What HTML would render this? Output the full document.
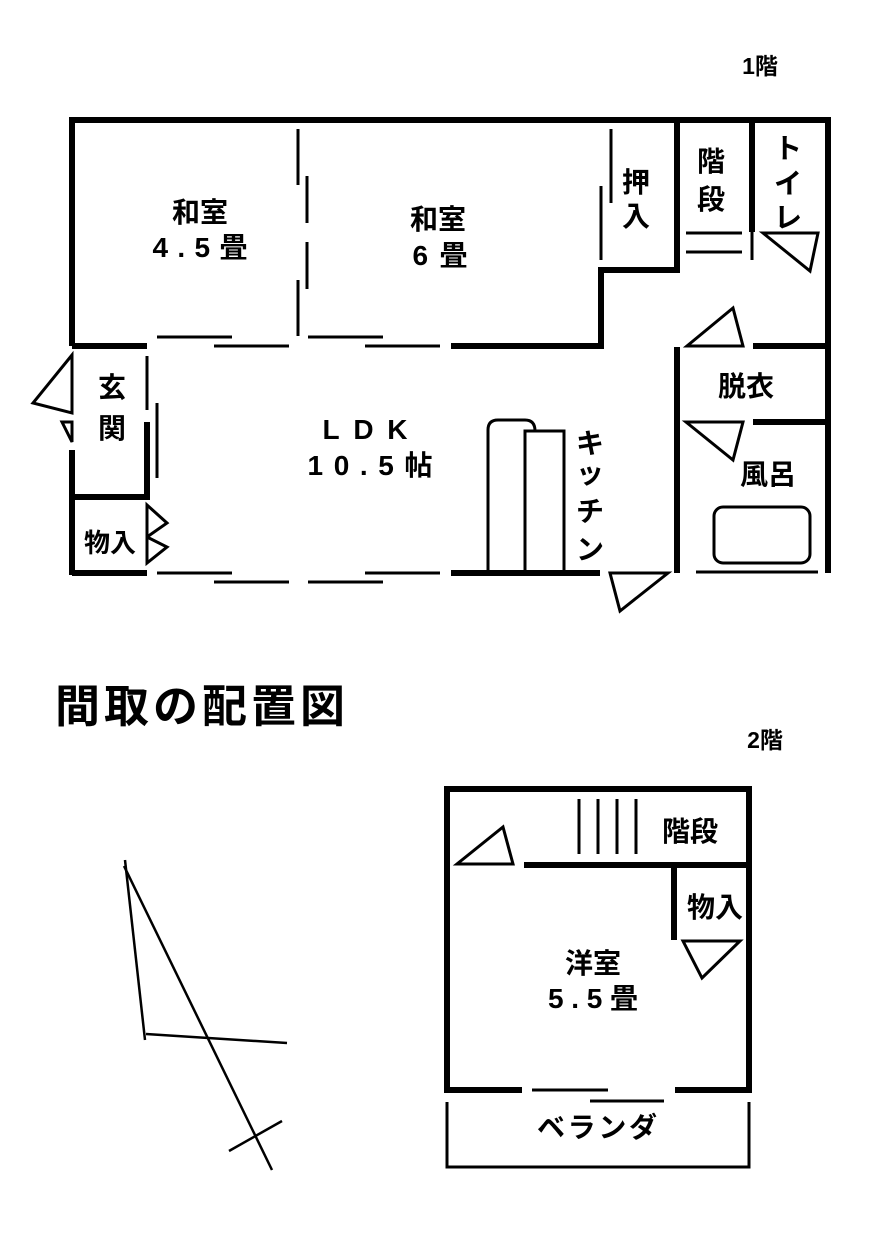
<!DOCTYPE html>
<html><head><meta charset="utf-8"><style>
html,body{margin:0;padding:0;background:#fff}
svg{display:block}
text{font-family:"Liberation Sans","Noto Sans CJK JP",sans-serif;font-weight:bold;fill:#000}
</style></head><body>
<svg width="876" height="1244" viewBox="0 0 876 1244" xmlns="http://www.w3.org/2000/svg">
<g stroke="#000" fill="none" stroke-linecap="butt">
<g stroke-width="6">
<polyline points="72,346 72,120 828,120 828,573"/>
<line x1="72" y1="346" x2="147" y2="346"/>
<line x1="451" y1="346" x2="604" y2="346"/>
<polyline points="601,346 601,270 677,270 677,120"/>
<line x1="752" y1="120" x2="752" y2="232"/>
<line x1="753" y1="346" x2="828" y2="346"/>
<line x1="753" y1="422" x2="828" y2="422"/>
<line x1="677" y1="347" x2="677" y2="573"/>
<line x1="72" y1="450" x2="72" y2="575"/>
<line x1="72" y1="497" x2="150" y2="497"/>
<line x1="147" y1="422" x2="147" y2="497"/>
<line x1="72" y1="573" x2="147" y2="573"/>
<line x1="451" y1="573" x2="600" y2="573"/>
</g>
<g stroke-width="3">
<line x1="157" y1="337" x2="232" y2="337"/>
<line x1="214" y1="346" x2="289" y2="346"/>
<line x1="308" y1="337" x2="383" y2="337"/>
<line x1="365" y1="346" x2="440" y2="346"/>
<line x1="157" y1="573" x2="232" y2="573"/>
<line x1="214" y1="582" x2="289" y2="582"/>
<line x1="308" y1="582" x2="383" y2="582"/>
<line x1="365" y1="573" x2="440" y2="573"/>
<line x1="298" y1="129" x2="298" y2="185"/>
<line x1="307" y1="176" x2="307" y2="223"/>
<line x1="307" y1="242" x2="307" y2="289"/>
<line x1="298" y1="280" x2="298" y2="336"/>
<line x1="611" y1="129" x2="611" y2="203"/>
<line x1="601" y1="186" x2="601" y2="260"/>
<line x1="752" y1="232" x2="752" y2="260"/>
<line x1="686" y1="233" x2="742" y2="233"/>
<line x1="686" y1="252" x2="742" y2="252"/>
<line x1="696" y1="572" x2="818" y2="572"/>
<line x1="147" y1="356" x2="147" y2="410"/>
<line x1="157" y1="403" x2="157" y2="478"/>
<polygon points="763,233 818,233 810,271"/>
<polygon points="687,346 743,346 733,308"/>
<polygon points="686,422 743,422 733,460"/>
<polygon points="610,573 668,573 620,611"/>
<polygon points="72,355 33,403 72,413"/>
<polygon points="62,422 72,422 72,442"/>
<polygon points="147,505 167,523 147,537"/>
<polygon points="147,537 167,547 147,563"/>
<rect x="714" y="507" width="96" height="56" rx="9"/>
<path d="M488,573 V430 Q488,420 498,420 H525 Q535,420 535,431"/>
<rect x="525" y="431" width="39" height="142"/>
</g>
<g stroke-width="6">
<polyline points="522,1090 447,1090 447,789 749,789 749,1090 675,1090"/>
<line x1="524" y1="865" x2="749" y2="865"/>
<line x1="674" y1="865" x2="674" y2="940"/>
</g>
<g stroke-width="3">
<line x1="532" y1="1090" x2="608" y2="1090"/>
<line x1="590" y1="1101" x2="664" y2="1101"/>
<polyline points="447,1102 447,1167 749,1167 749,1102"/>
<line x1="579" y1="799" x2="579" y2="854"/>
<line x1="598" y1="799" x2="598" y2="854"/>
<line x1="617" y1="799" x2="617" y2="854"/>
<line x1="636" y1="799" x2="636" y2="854"/>
<polygon points="457,864 513,864 503,827"/>
<polygon points="683,941 740,941 702,978"/>
</g>
<g stroke-width="2.5">
<line x1="125" y1="860" x2="145" y2="1040"/>
<line x1="124" y1="866" x2="272" y2="1170"/>
<line x1="146" y1="1034" x2="287" y2="1043"/>
<line x1="229" y1="1151" x2="282" y2="1121"/>
</g>
</g>
<g font-size="28" text-anchor="middle">
<text x="760" y="74" font-size="23">1階</text>
<text x="765" y="748" font-size="23">2階</text>
<text x="200" y="222">和室</text>
<text x="200" y="257" textLength="95">4.5畳</text>
<text x="438" y="229">和室</text>
<text x="440" y="265" textLength="55">6畳</text>
<text x="365" y="439" textLength="85">LDK</text>
<text x="370" y="475" textLength="125">10.5帖</text>
<text x="636" y="192">押</text>
<text x="636" y="226">入</text>
<text x="711" y="171">階</text>
<text x="711" y="209">段</text>
<text x="788" y="158">ト</text>
<text x="788" y="193">イ</text>
<text x="788" y="227">レ</text>
<text x="746" y="396">脱衣</text>
<text x="768" y="484">風呂</text>
<text x="590" y="453">キ</text>
<text x="590" y="483">ッ</text>
<text x="590" y="521">チ</text>
<text x="590" y="559">ン</text>
<text x="112" y="397">玄</text>
<text x="112" y="438">関</text>
<text x="110" y="552" font-size="26">物入</text>
<text x="690" y="841">階段</text>
<text x="715" y="917">物入</text>
<text x="593" y="973">洋室</text>
<text x="593" y="1008" textLength="90">5.5畳</text>
<text x="597" y="1137" textLength="120">ベランダ</text>
</g>
<text x="55" y="722" font-size="45" textLength="290">間取の配置図</text>
</svg>
</body></html>
